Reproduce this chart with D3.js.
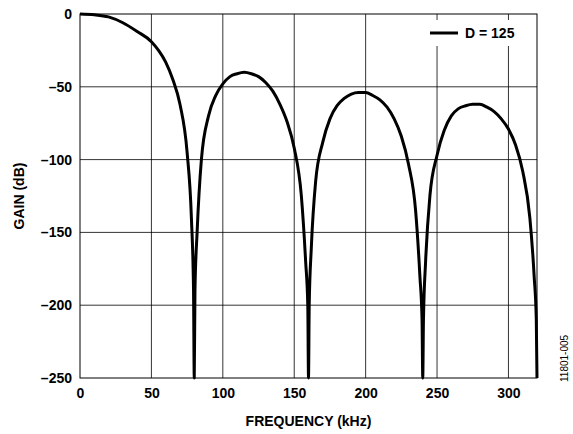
<!DOCTYPE html>
<html><head><meta charset="utf-8">
<script src="https://cdn.jsdelivr.net/npm/d3@7"></script>
<style>body{margin:0;background:#fff}text{font-family:"Liberation Sans",Arial,sans-serif;font-weight:bold}</style>
</head><body><svg id="c" width="573" height="434"></svg>
<script>
const xTicks=[0,50,100,150,200,250,300];
const yTicks=[0,-50,-100,-150,-200,-250];
const freq=[0,10,20,30,40,50,55,60,65,70,75,78,79.5,80,
80.5,82,85,90,95,100,105,110,115,120,125,130,135,140,145,150,155,158,159.5,160,
160.5,162,165,170,175,180,185,190,195,200,205,210,215,220,225,230,235,238,239.5,240,
240.5,242,245,250,255,260,265,270,275,280,285,290,295,300,305,310,315,318,319.5,320];
const gain=[0,-0.5,-2,-6,-12,-19,-25,-33,-45,-62,-95,-140,-190,-250,
-190,-150,-100,-70,-56,-48,-43,-41,-40,-41,-43,-47,-53,-62,-74,-92,-125,-170,-200,-250,
-200,-160,-115,-88,-72,-63,-58,-55,-54,-54,-56,-59,-64,-72,-84,-103,-135,-180,-210,-250,
-210,-170,-125,-97,-80,-70,-65,-63,-62,-62,-64,-67,-72,-79,-90,-108,-140,-180,-210,-250];
const svg=d3.select("#c");
const L=80,R=537,T=14,B=378;
const x=d3.scaleLinear().domain([0,320]).range([L,R]);
const y=d3.scaleLinear().domain([-250,0]).range([B,T]);
const g=svg.append("g");
xTicks.slice(1).forEach(v=>g.append("line").attr("x1",x(v)).attr("x2",x(v)).attr("y1",T).attr("y2",B).attr("stroke","#000").attr("stroke-width",0.8));
yTicks.slice(1,-1).forEach(v=>g.append("line").attr("x1",L).attr("x2",R).attr("y1",y(v)).attr("y2",y(v)).attr("stroke","#000").attr("stroke-width",0.8));
g.append("rect").attr("x",L).attr("y",T).attr("width",R-L).attr("height",B-T).attr("fill","none").attr("stroke","#000").attr("stroke-width",1);
const fs=14;
svg.append("g").attr("transform",`translate(0,${B})`).call(d3.axisBottom(x).tickValues(xTicks).tickSize(0).tickPadding(10).tickFormat(d3.format("d")))
 .call(a=>{a.select(".domain").remove();a.selectAll("text").attr("font-size",fs).attr("fill","#000").style("font-family","Liberation Sans").style("font-weight","bold")});
svg.append("g").attr("transform",`translate(${L},0)`).call(d3.axisLeft(y).tickValues(yTicks).tickSize(0).tickPadding(8).tickFormat(d=>d<0?"\u2013"+(-d):d))
 .call(a=>{a.select(".domain").remove();a.selectAll("text").attr("font-size",fs).attr("fill","#000").style("font-family","Liberation Sans").style("font-weight","bold")});
svg.append("path").datum(freq.map((f,i)=>[f,gain[i]])).attr("fill","none").attr("stroke","#000").attr("stroke-width",3).attr("stroke-linejoin","round")
 .attr("d",d3.line().x(d=>x(d[0])).y(d=>y(d[1])).curve(d3.curveMonotoneX));
svg.append("rect").attr("x",422).attr("y",20).attr("width",112).attr("height",26).attr("fill","#fff");
svg.append("line").attr("x1",430).attr("x2",458).attr("y1",33).attr("y2",33).attr("stroke","#000").attr("stroke-width",3);
svg.append("text").attr("x",465).attr("y",38).attr("font-size",fs).text("D = 125");
svg.append("text").attr("x",(L+R)/2).attr("y",426).attr("text-anchor","middle").attr("font-size",fs).text("FREQUENCY (kHz)");
svg.append("text").attr("transform",`translate(24,${(T+B)/2}) rotate(-90)`).attr("text-anchor","middle").attr("font-size",fs).text("GAIN (dB)");
svg.append("text").attr("transform","translate(568,382) rotate(-90)").attr("font-size",10).style("font-weight","normal").text("11801-005");
</script></body></html>
